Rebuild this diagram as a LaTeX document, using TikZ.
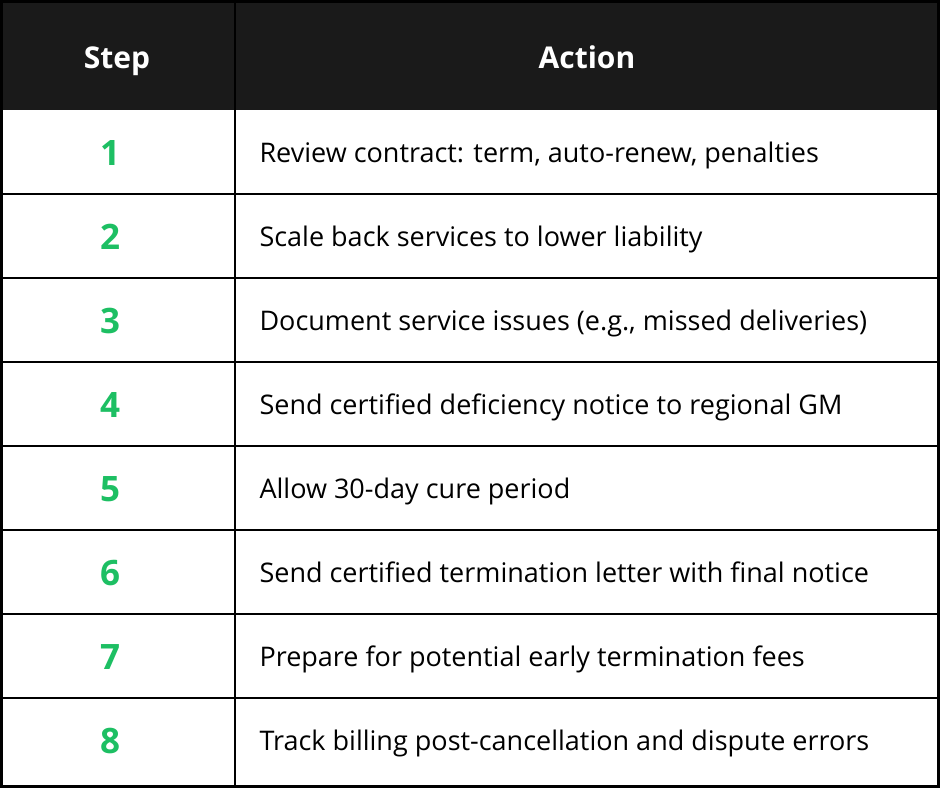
\documentclass[tikz,border=0pt]{standalone}
\usepackage{fontspec}
\setmainfont{Open Sans}
\definecolor{hdr}{HTML}{1A1A1A}
\definecolor{grn}{HTML}{1DBF63}
\begin{document}
\begin{tikzpicture}[x=1pt,y=-1pt,
  num/.style={font=\fontsize{35}{40}\selectfont\bfseries,text=grn,anchor=base},
  act/.style={font=\fontsize{27}{32}\selectfont,anchor=base west},
  hd/.style={font=\fontsize{30}{34}\selectfont\bfseries,text=white,anchor=base}]
\useasboundingbox (0,0) rectangle (940,788);
\fill[white] (0,0) rectangle (940,788);
\fill[hdr] (0,0) rectangle (940,110);
\node[hd] (h1) at (117,68) {Step};
\node[hd] (h2) at (587,68) {Action};
\foreach \i/\t in {1/{Review contract: term, auto-renew, penalties},
  2/{Scale back services to lower liability},
  3/{Document service issues (e.g., missed deliveries)},
  4/{Send certified deficiency notice to regional GM},
  5/{Allow 30-day cure period},
  6/{Send certified termination letter with final notice},
  7/{Prepare for potential early termination fees},
  8/{Track billing post-cancellation and dispute errors}}{
  \pgfmathsetmacro{\yy}{110+84*(\i-1)}
  \node[num] (n\i) at (110,\yy+55) {\i};
  \node[act] (a\i) at (256,\yy+52) {\t};
}
\foreach \i in {1,...,7}{\draw[line width=1.5pt] (0,110+84*\i) -- (940,110+84*\i);}
\draw[line width=1.5pt] (235,0) -- (235,788);
\draw[line width=3pt] (1.5,1.5) rectangle (938.5,786.5);
\end{tikzpicture}
\end{document}
